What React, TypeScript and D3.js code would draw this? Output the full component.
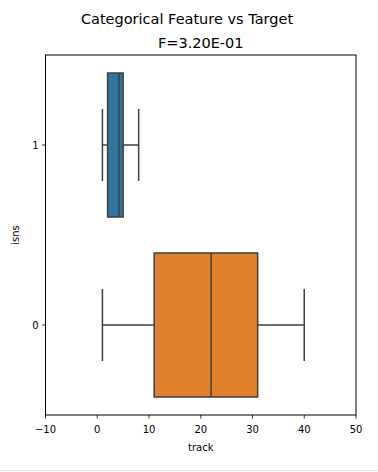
import React from "react";
import * as d3 from "d3";

const categories = ["1", "0"];
const mins = [1, 1];
const q1s = [2, 11];
const medians = [4.2, 22];
const q3s = [5, 31];
const maxs = [8, 40];
const colors = ["#3274a1", "#e1812c"];
const xTicks = [-10, 0, 10, 20, 30, 40, 50];

export default function App() {
  const W = 378, H = 472;
  const left = 45.5, right = 356, top = 55, bottom = 415;
  const x = d3.scaleLinear().domain([-10, 50]).range([left, right]);
  const y = d3.scaleLinear().domain([1.5, -0.5]).range([top, bottom]);
  const catVal = (c: string) => +c;
  const bw = Math.abs(y(0.4) - y(-0.4));
  const capW = bw / 2;
  const line = "#3f3f3f";
  const font = "DejaVu Sans, sans-serif";
  return (
    <svg width={W} height={H} style={{ position: "fixed", left: 0, top: 0, background: "#fff" }} fontFamily={font}>
      <rect x={0} y={0} width={W} height={H} fill="#fff" />
      <text x={187} y={24} textAnchor="middle" fontSize={14.5} fill="#000">Categorical Feature vs Target</text>
      <text x={(left + right) / 2} y={48} textAnchor="middle" fontSize={14.5} fill="#000">F=3.20E-01</text>
      {categories.map((c, i) => {
        const cy = y(catVal(c));
        return (
          <g key={c}>
            <line x1={x(mins[i])} x2={x(q1s[i])} y1={cy} y2={cy} stroke={line} strokeWidth={1.5} />
            <line x1={x(q3s[i])} x2={x(maxs[i])} y1={cy} y2={cy} stroke={line} strokeWidth={1.5} />
            <line x1={x(mins[i])} x2={x(mins[i])} y1={cy - capW / 2} y2={cy + capW / 2} stroke={line} strokeWidth={1.5} />
            <line x1={x(maxs[i])} x2={x(maxs[i])} y1={cy - capW / 2} y2={cy + capW / 2} stroke={line} strokeWidth={1.5} />
            <rect x={x(q1s[i])} y={cy - bw / 2} width={x(q3s[i]) - x(q1s[i])} height={bw} fill={colors[i]} stroke={line} strokeWidth={1.5} />
            <line x1={x(medians[i])} x2={x(medians[i])} y1={cy - bw / 2} y2={cy + bw / 2} stroke={line} strokeWidth={1.5} />
          </g>
        );
      })}
      <rect x={left} y={top} width={right - left} height={bottom - top} fill="none" stroke="#000" strokeWidth={1} />
      {xTicks.map((t) => (
        <g key={t}>
          <line x1={x(t)} x2={x(t)} y1={bottom} y2={bottom + 3.5} stroke="#000" strokeWidth={0.8} />
          <text x={x(t)} y={bottom + 18} textAnchor="middle" fontSize={10} fill="#000">{t < 0 ? "\u2212" + Math.abs(t) : t}</text>
        </g>
      ))}
      {categories.map((c) => (
        <g key={"y" + c}>
          <line x1={left - 3.5} x2={left} y1={y(catVal(c))} y2={y(catVal(c))} stroke="#000" strokeWidth={0.8} />
          <text x={left - 7} y={y(catVal(c)) + 3.5} textAnchor="end" fontSize={10} fill="#000">{c}</text>
        </g>
      ))}
      <text x={(left + right) / 2} y={451} textAnchor="middle" fontSize={10} fill="#000">track</text>
      <text transform={`translate(19,${(top + bottom) / 2}) rotate(-90)`} textAnchor="middle" fontSize={10} fill="#000">isns</text>
      <line x1={0} x2={W} y1={470.5} y2={470.5} stroke="#e8e8e8" strokeWidth={1} />
    </svg>
  );
}
